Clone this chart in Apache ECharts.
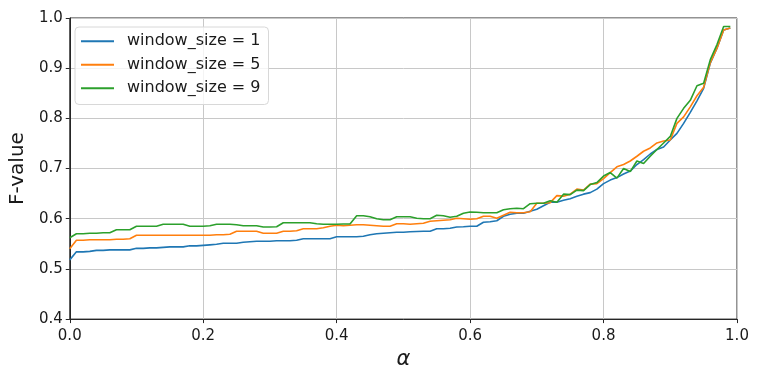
<!DOCTYPE html>
<html>
<head>
<meta charset="utf-8">
<script src="https://cdn.jsdelivr.net/npm/echarts@6/dist/echarts.min.js"></script>
<style>html,body{margin:0;padding:0;background:#fff}#c{width:759px;height:375px}</style>
</head>
<body>
<div id="c"></div>
<script>
const alpha = [0.00,0.01,0.02,0.03,0.04,0.05,0.06,0.07,0.08,0.09,
0.10,0.11,0.12,0.13,0.14,0.15,0.16,0.17,0.18,0.19,
0.20,0.21,0.22,0.23,0.24,0.25,0.26,0.27,0.28,0.29,
0.30,0.31,0.32,0.33,0.34,0.35,0.36,0.37,0.38,0.39,
0.40,0.41,0.42,0.43,0.44,0.45,0.46,0.47,0.48,0.49,
0.50,0.51,0.52,0.53,0.54,0.55,0.56,0.57,0.58,0.59,
0.60,0.61,0.62,0.63,0.64,0.65,0.66,0.67,0.68,0.69,
0.70,0.71,0.72,0.73,0.74,0.75,0.76,0.77,0.78,0.79,
0.80,0.81,0.82,0.83,0.84,0.85,0.86,0.87,0.88,0.89,
0.90,0.91,0.92,0.93,0.94,0.95,0.96,0.97,0.98,0.99];

const ws1 = [0.518,0.534,0.534,0.535,0.537,0.537,0.538,0.538,0.538,0.538,
0.541,0.541,0.542,0.542,0.543,0.544,0.544,0.544,0.546,0.546,
0.547,0.548,0.549,0.551,0.551,0.551,0.553,0.554,0.555,0.555,
0.555,0.556,0.556,0.556,0.557,0.560,0.560,0.560,0.560,0.560,
0.564,0.564,0.564,0.564,0.565,0.568,0.570,0.571,0.572,0.573,
0.573,0.574,0.5745,0.575,0.575,0.580,0.580,0.581,0.5835,0.584,
0.585,0.585,0.593,0.594,0.596,0.605,0.609,0.611,0.611,0.615,
0.619,0.626,0.633,0.633,0.637,0.640,0.645,0.649,0.652,0.659,
0.670,0.677,0.682,0.689,0.695,0.708,0.718,0.729,0.738,0.743,
0.757,0.770,0.790,0.812,0.835,0.860,0.910,0.940,0.976,0.980];

const ws5 = [0.540,0.557,0.557,0.558,0.558,0.558,0.558,0.559,0.559,0.560,
0.567,0.567,0.567,0.567,0.567,0.567,0.567,0.567,0.567,0.567,
0.567,0.567,0.568,0.568,0.569,0.575,0.575,0.575,0.575,0.571,
0.571,0.571,0.575,0.575,0.576,0.580,0.580,0.580,0.582,0.585,
0.587,0.586,0.587,0.588,0.588,0.587,0.586,0.585,0.585,0.590,
0.590,0.589,0.590,0.591,0.595,0.596,0.597,0.598,0.601,0.600,
0.599,0.600,0.605,0.605,0.601,0.607,0.613,0.612,0.612,0.614,
0.631,0.631,0.632,0.646,0.645,0.649,0.659,0.657,0.669,0.670,
0.680,0.692,0.7035,0.708,0.715,0.7245,0.7345,0.741,0.751,0.755,
0.757,0.790,0.803,0.823,0.845,0.862,0.911,0.940,0.976,0.980];

const ws9 = [0.562,0.570,0.570,0.571,0.571,0.572,0.572,0.578,0.578,0.578,
0.585,0.585,0.585,0.585,0.589,0.589,0.589,0.589,0.585,0.585,
0.585,0.586,0.589,0.589,0.589,0.588,0.586,0.586,0.586,0.5835,
0.5835,0.584,0.592,0.592,0.592,0.592,0.592,0.590,0.589,0.589,
0.589,0.5895,0.5895,0.606,0.606,0.604,0.600,0.598,0.598,0.604,
0.604,0.604,0.601,0.600,0.600,0.607,0.606,0.603,0.605,0.611,
0.6135,0.613,0.612,0.612,0.612,0.618,0.620,0.621,0.620,0.630,
0.631,0.631,0.636,0.633,0.649,0.648,0.657,0.656,0.668,0.672,
0.685,0.692,0.681,0.700,0.694,0.715,0.710,0.7245,0.738,0.751,
0.764,0.800,0.820,0.836,0.865,0.870,0.917,0.947,0.983,0.983];

const seriesNames = ['window_size = 1','window_size = 5','window_size = 9'];
const seriesColors = ['#1f77b4','#ff7f0e','#2ca02c'];
const seriesValues = [ws1, ws5, ws9];

const chart = echarts.init(document.getElementById('c'), null, {renderer:'canvas'});
const font = 'DejaVu Sans';
chart.setOption({
  animation:false,
  backgroundColor:'#fff',
  grid:{left:67,right:22,top:18,bottom:52,show:true,borderColor:'#262626',borderWidth:1,backgroundColor:'transparent'},
  legend:{
    orient:'vertical', left:75, top:27,
    padding:[5,8,7,6],
    backgroundColor:'rgba(255,255,255,0.8)',
    borderColor:'#d8d8d8', borderWidth:1, borderRadius:4,
    icon:'rect', itemWidth:33, itemHeight:2, itemGap:5,
    textStyle:{fontFamily:font,fontSize:16,color:'#1a1a1a',lineHeight:18.5,padding:[0,0,0,8]}
  },
  xAxis:{
    type:'value', min:0, max:1, interval:0.2,
    name:'α', nameLocation:'middle', nameGap:25,
    nameTextStyle:{fontFamily:font,fontSize:21,fontStyle:'italic',color:'#1a1a1a'},
    axisLine:{show:true,lineStyle:{color:'#262626',width:1}},
    axisTick:{show:true,length:4,lineStyle:{color:'#262626'}},
    axisLabel:{fontFamily:font,fontSize:15,color:'#1a1a1a',margin:10,formatter:v=>v.toFixed(1)},
    splitLine:{show:true,lineStyle:{color:'#c8c8c8',width:1}}
  },
  yAxis:{
    type:'value', min:0.4, max:1.0, interval:0.1,
    name:'F-value', nameLocation:'middle', nameGap:37, nameRotate:90,
    nameTextStyle:{fontFamily:font,fontSize:20,color:'#1a1a1a'},
    axisLine:{show:true,lineStyle:{color:'#262626',width:1}},
    axisTick:{show:true,length:4,lineStyle:{color:'#262626'}},
    axisLabel:{fontFamily:font,fontSize:15,color:'#1a1a1a',margin:7,formatter:v=>v.toFixed(1)},
    splitLine:{show:true,lineStyle:{color:'#c8c8c8',width:1}}
  },
  series: seriesNames.map((n,i)=>({
    name:n, type:'line', showSymbol:false, symbol:'none',
    color:seriesColors[i],
    lineStyle:{width:1.6,color:seriesColors[i]},
    data: alpha.map((a,j)=>[a, seriesValues[i][j]])
  }))
});
</script>
</body>
</html>
